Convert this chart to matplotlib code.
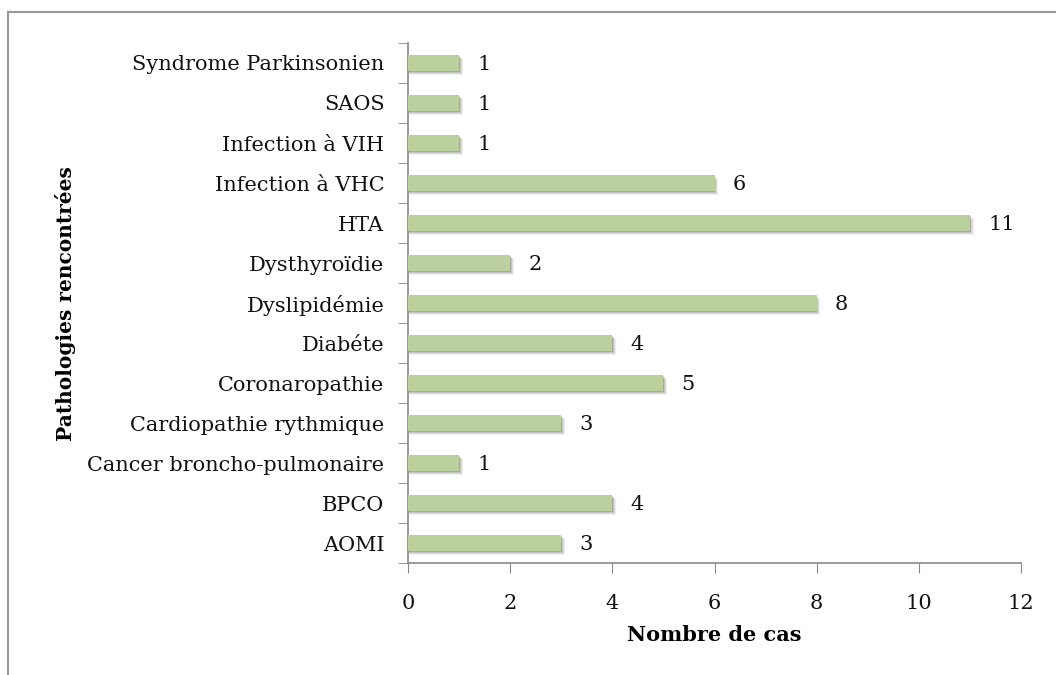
import matplotlib.pyplot as plt
from matplotlib.lines import Line2D

# data (bottom to top as drawn)
categories = ['AOMI', 'BPCO', 'Cancer broncho-pulmonaire', 'Cardiopathie rythmique',
              'Coronaropathie', 'Diabéte', 'Dyslipidémie', 'Dysthyroïdie', 'HTA',
              'Infection à VHC', 'Infection à VIH', 'SAOS', 'Syndrome Parkinsonien']
cases = [3, 4, 1, 3, 5, 4, 8, 2, 11, 6, 1, 1, 1]
x_ticks = [0, 2, 4, 6, 8, 10, 12]

plt.rcParams['font.family'] = ['DejaVu Serif']

fig = plt.figure(figsize=(10.56, 6.75), dpi=100)
ax = fig.add_axes([0.3864, 0.1659, 0.5805, 0.7704])

pos = list(range(len(categories)))
bar_h = 0.4

# soft shadow under bars
for dx, dy, a in [(0.07, -0.09, 0.08), (0.05, -0.07, 0.12), (0.03, -0.05, 0.16), (0.015, -0.03, 0.2)]:
    ax.barh([p + dy for p in pos], [v + dx for v in cases], height=bar_h,
            color='#444444', alpha=a, linewidth=0, zorder=2)
ax.barh(pos, cases, height=bar_h, color='#BBD09C', linewidth=0, zorder=3)

for p, v in zip(pos, cases):
    ax.annotate(str(v), (v, p - 0.03), xytext=(13, 0), textcoords='offset points',
                ha='left', va='center', fontsize=15, color='#111111')

ax.set_xlim(0, 12)
ax.set_ylim(-0.5, len(categories) - 0.5)
ax.set_xticks(x_ticks)
ax.set_yticks(pos)
ax.set_yticklabels(categories)
ax.set_yticks([p - 0.5 for p in pos] + [len(categories) - 0.5], minor=True)

ax.tick_params(axis='y', which='major', length=0, pad=17, labelsize=15, colors='#111111')
ax.tick_params(axis='y', which='minor', length=7, color='#888888', direction='out')
ax.tick_params(axis='x', which='major', length=7, color='#888888', direction='out',
               pad=15, labelsize=15, labelcolor='#111111')

for s in ['top', 'right']:
    ax.spines[s].set_visible(False)
for s in ['left', 'bottom']:
    ax.spines[s].set_color('#888888')
    ax.spines[s].set_linewidth(1.2)

ax.set_xlabel('Nombre de cas', fontsize=15, fontweight='bold', labelpad=9)
fig.text(0.062, 0.55, 'Pathologies rencontrées', rotation=90, fontsize=14.5,
         fontweight='bold', ha='center', va='center')

# chart frame (extends off the right and bottom edges)
fig.add_artist(Line2D([8 / 1056, 1.01], [1 - 12 / 675] * 2, color='#999999', lw=1.5))
fig.add_artist(Line2D([8 / 1056] * 2, [-0.01, 1 - 12 / 675], color='#999999', lw=1.5))

plt.savefig('out.png', dpi=100)
